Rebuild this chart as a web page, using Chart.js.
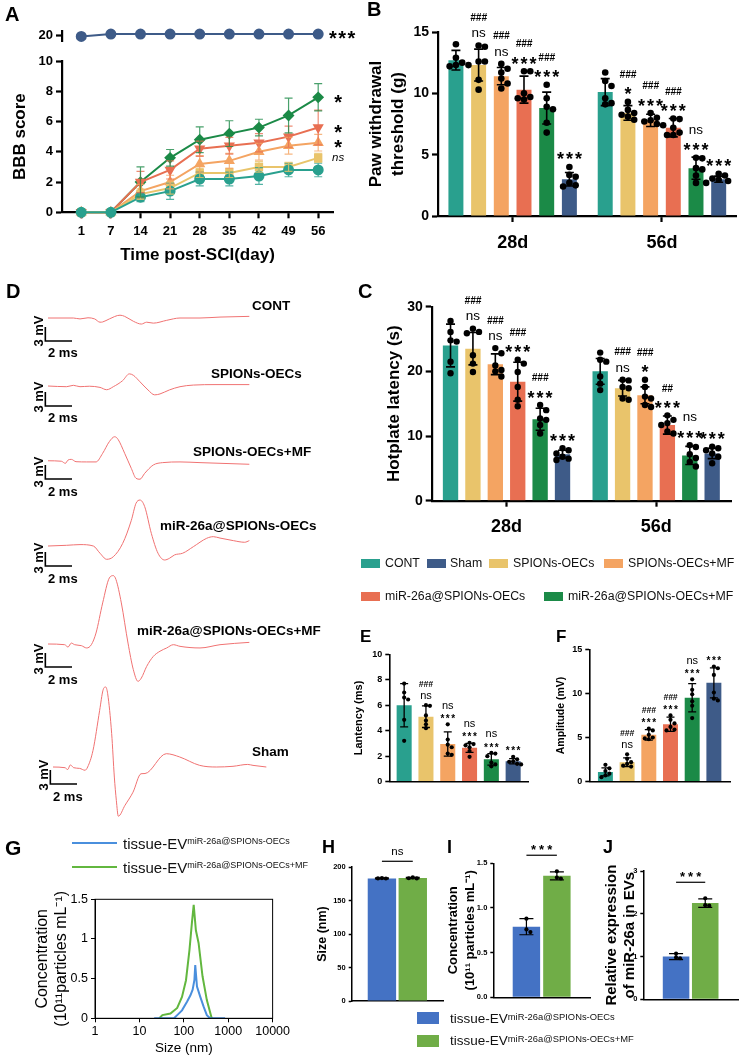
<!DOCTYPE html>
<html><head><meta charset="utf-8">
<script src="https://cdn.jsdelivr.net/npm/chart.js@4.4.0/dist/chart.umd.min.js"></script>
<style>
html,body{margin:0;padding:0;background:#fff;}
#fig{position:relative;width:743px;height:1059px;overflow:hidden;font-family:'Liberation Sans',Arial,Helvetica,sans-serif;color:#000;background:#fff;}
#fig canvas{position:absolute;}
.t{position:absolute;white-space:nowrap;line-height:1;}
.box{position:absolute;}
</style></head><body><div id="fig"></div>
<script>
// ================= DATA =================
const groupNames = ['CONT','SPIONs-OECs','SPIONs-OECs+MF','miR-26a@SPIONs-OECs','miR-26a@SPIONs-OECs+MF','Sham'];
const groupColors = ['#29a08e','#e9c46b','#f4a462','#e86f52','#1b8a47','#3e5b88'];

// A: BBB score
const bbbDays = [1,7,14,21,28,35,42,49,56];
const bbbSham = [19.8,20.2,20.2,20.2,20.2,20.2,20.2,20.2,20.2];
const bbbCont = [0,0,1.0,1.4,2.2,2.2,2.4,2.8,2.8];
const bbbSp = [0,0,1.2,1.6,2.6,2.6,3.0,3.0,3.6];
const bbbSpMf = [0,0,1.4,2.0,3.2,3.4,4.0,4.4,4.6];
const bbbMir = [0,0,2.0,2.8,4.2,4.4,4.6,5.0,5.6];
const bbbMirMf = [0,0,2.0,3.6,4.8,5.2,5.6,6.4,7.6];
const bbbContSD = [0,0,0.3,0.55,0.45,0.45,0.55,0.45,0.45];
const bbbSpSD = [0,0,0.35,0.4,0.3,0.3,0.35,0.3,0.3];
const bbbSpMfSD = [0,0,0.45,0.45,0.55,0.5,0.55,0.55,0.55];
const bbbMirSD = [0,0,0.7,0.6,0.5,0.55,0.6,0.7,1.15];
const bbbMirMfSD = [0,0,1.0,0.55,0.85,0.85,0.55,1.15,0.9];
const bbbSig = ['', 'ns', '*', '*', '*', '***']; // group order

// B: paw withdrawal threshold
const timeLabels = ['28d','56d'];
const pawMean = [[12.7,10.1],[12.3,8.4],[11.4,7.8],[10.3,7.2],[8.8,3.9],[3.0,3.0]];
const pawSD = [[0.8,1.1],[1.3,0.6],[0.7,0.5],[1.1,0.75],[1.3,0.9],[0.55,0.25]];
const pawPts = [
  [[14.0,12.9,12.5,12.3,12.2,12.3],[11.7,11.0,10.6,9.6,9.2,9.1]],
  [[13.9,13.8,12.6,12.6,11.1,10.3],[9.3,8.65,8.4,8.25,8.1,7.85]],
  [[12.4,12.0,11.7,11.2,10.8,10.4],[8.4,8.0,7.8,7.7,7.5,7.4]],
  [[11.8,11.8,10.0,9.7,9.6,9.5],[7.95,7.9,7.2,6.8,6.6,6.6]],
  [[10.7,9.6,8.9,8.7,7.6,6.8],[4.75,4.7,3.9,3.8,3.3,2.7]],
  [[4.0,3.35,3.2,2.7,2.5,2.4],[3.45,3.3,3.05,2.95,2.85,2.7]]
];
const pawSig = [[[],[]],[['ns','###'],['*','###']],[['ns','###'],['***','###']],[['***','###'],['***','###']],[['***','###'],['***','ns']],[['***'],['***']]];

// C: hotplate latency
const hotMean = [[24.0,20.0],[23.5,17.4],[21.1,16.3],[18.4,11.7],[12.6,7.0],[7.2,7.3]];
const hotSD = [[3.3,2.0],[2.5,1.2],[1.6,1.3],[3.0,1.4],[1.7,1.4],[0.6,0.8]];
const hotPts = [
  [[27.8,26.1,24.8,24.6,21.5,19.7],[22.9,21.8,21.5,19.2,18.1,17.1]],
  [[26.6,26.1,25.9,22.5,21.2,19.9],[18.7,18.6,17.6,17.4,15.8,15.6]],
  [[23.6,22.8,20.9,20.2,20.0,19.2],[18.7,17.6,16.1,15.8,14.8,14.5]],
  [[21.8,21.2,19.9,17.6,15.6,14.6],[13.2,12.5,12.0,11.7,10.7,10.4]],
  [[14.8,14.0,12.7,12.5,11.7,10.4],[8.6,8.3,7.2,6.6,6.0,5.3]],
  [[8.1,7.8,7.3,6.8,6.5,6.3],[8.35,8.1,7.8,7.3,6.8,5.8]]
];
const hotSig = [[[],[]],[['ns','###'],['ns','###']],[['ns','###'],['*','###']],[['***','###'],['***','##']],[['***','###'],['***','ns']],[['***'],['***']]];

// E: latency
const latMean = [6.0,5.1,2.95,2.65,1.75,1.6];
const latSD = [1.7,0.85,0.95,0.35,0.45,0.2];
const latPts = [[7.7,7.0,6.6,6.45,4.85,3.2],[6.0,5.95,5.2,4.8,4.5,4.2],[4.5,3.3,2.9,2.7,2.2,2.1],[3.05,2.95,2.85,2.7,2.4,1.95],[2.25,2.2,2.0,1.5,1.35,1.2],[1.95,1.75,1.6,1.55,1.4,1.35]];
const latSig = [[],['ns','###'],['***','ns'],['***','ns'],['***','ns'],['***']];

// F: amplitude
const ampMean = [1.1,2.2,5.3,6.5,9.5,11.2];
const ampSD = [0.45,0.5,0.6,0.8,1.6,1.7];
const ampPts = [[1.9,1.5,1.2,0.9,0.7,0.5],[3.1,2.6,2.2,2.0,1.8,1.7],[6.0,5.8,5.3,5.0,4.9,4.8],[7.5,7.0,6.6,6.2,5.9,5.8],[11.6,10.4,9.9,9.1,8.6,7.2],[13.05,12.85,12.1,10.1,9.4,9.2]];
const ampSig = [[],['ns','###'],['***','###'],['***','###'],['***','ns'],['***']];

// D: traces (ms, mV)
const contMs = [0,1.9,2.4,3.0,3.5,3.9,4.1,4.6,5.4,5.75,6.4,7.0,7.4,7.9,8.9,9.9,11.4,12.9,15.1];
const contMv = [0,0,-0.2,0.05,-0.2,-0.9,-0.85,-0.2,0.6,0.35,-0.7,-1.3,-0.9,-1.1,-0.5,0,0,0.2,0.35];
const spMs = [0,1.4,1.9,2.4,3.1,3.9,4.4,4.9,5.6,6.1,6.4,6.9,7.5,8.0,8.4,9.1,9.9,10.9,12.6,15.1];
const spMv = [0,-0.15,0.15,-0.15,-0.05,-0.3,-0.8,-0.15,1.15,2.6,2.3,0.9,-0.85,-1.9,-1.7,-0.85,-0.15,0.2,0.3,0.3];
const spMfMs = [0,1.0,1.3,1.5,1.75,2.1,2.9,3.6,4.1,4.6,5.0,5.25,5.75,6.25,6.6,6.9,7.25,7.9,8.6,9.9,11.4,15.1];
const spMfMv = [0.05,-0.05,-0.5,0.2,0.35,-0.15,-0.2,-0.2,1.65,4.15,5.2,4.65,1.65,-1.6,-3.7,-3.9,-2.65,-0.85,-0.35,-0.2,-0.35,-0.7];
const mirMs = [0,1.4,2.4,3.4,3.9,4.4,4.9,5.6,6.25,6.6,6.9,7.25,7.75,8.25,8.75,9.1,9.5,10.1,10.9,11.9,12.4,12.9,13.9,14.75,15.1];
const mirMv = [0,0.15,0.3,0,-1.55,-2.85,-2.3,0.55,5.5,9.15,9.85,8.45,2.7,-1.55,-3.0,-2.65,-1.9,-1.55,-0.15,1.65,2.0,1.7,1.15,0.8,1.15];
const mirMfMs = [0,1.25,1.5,1.75,2.0,2.5,2.9,3.25,3.6,4.1,4.6,4.9,5.1,5.5,6.0,6.4,6.75,7.0,7.4,7.9,8.4,8.9,9.4,9.9,11.4,12.9,15.1];
const mirMfMv = [0,-0.15,-0.65,0.2,-0.15,-0.35,-0.85,-0.15,2.35,8.8,14.15,14.65,13.8,8.8,0.2,-5.5,-8.0,-7.3,-4.8,-2.65,-1.55,-0.85,-0.15,-0.5,-0.85,-0.15,0.35];
const shamMs = [0,0.9,1.1,1.3,1.55,2.0,2.4,2.6,3.0,3.5,3.75,3.95,4.1,4.4,4.6,4.75,4.9,5.4,6.0,6.6,6.9,8.5,9.5,11.0,12.25,13.5,14.6,15.0,16.0];
const shamMv = [0,-0.15,-0.55,0.45,-0.15,-0.3,-0.7,0,3.55,12.15,16.45,17.15,15.7,7.15,-2.15,-7.15,-10.55,-8.2,-5.4,-1.45,-1.4,2.85,2.15,0.35,0,0.15,0.55,0.35,0];
const scaleBarMv = 3, scaleBarMs = 2;

// G: NTA
const ntaBlueNm = [21.5,60,71,91,118,141,158,173,181,198,235,278,330,390,850];
const ntaBlueVal = [0,0,0.04,0.1,0.21,0.29,0.36,0.48,0.67,0.4,0.27,0.15,0.04,0,0];
const ntaGreenNm = [28,33,50,71,91,112,134,152,167,187,215,264,330,425,450];
const ntaGreenVal = [0,0.04,0.06,0.13,0.27,0.48,0.86,1.2,1.43,1.11,0.95,0.53,0.23,0,0];
const ntaXTicks = [1,10,100,1000,10000];
const ntaYTicks = [0,0.5,1,1.5];

// H, I, J
const evNames = ['miR-26a@SPIONs-OECs','miR-26a@SPIONs-OECs+MF'];
const evColors = ['#4472c4','#70ad47'];
const sizeMean = [183,183.5], sizeSD = [0.8,1.0], sizePts = [[183.5,182.8,183],[184.5,183,183.2]];
const concMean = [0.79,1.36], concSD = [0.09,0.045], concPts = [[0.88,0.76,0.73],[1.41,1.34,1.33]];
const relMean = [1.0,2.25], relSD = [0.07,0.1], relPts = [[1.07,0.98,0.96],[2.36,2.2,2.19]];
const sizeSig = 'ns', concSig = '***', relSig = '***';

// ================= SETUP =================
const FF = "'Liberation Sans', Arial, Helvetica, sans-serif";
Chart.defaults.font.family = FF;
Chart.defaults.color = '#000';
Chart.defaults.animation = false;
Chart.defaults.responsive = false;
Chart.defaults.devicePixelRatio = 1;
Chart.defaults.events = [];
Chart.defaults.plugins.legend.display = false;
Chart.defaults.plugins.tooltip.enabled = false;

const fig = document.getElementById('fig');
function mkCanvas(x, y, w, h) {
  const c = document.createElement('canvas');
  c.width = w; c.height = h;
  c.style.left = x + 'px'; c.style.top = y + 'px';
  c.style.width = w + 'px'; c.style.height = h + 'px';
  fig.appendChild(c);
  return c;
}
function T(x, y, html, size, o = {}) {
  const d = document.createElement('div');
  d.className = 't';
  d.innerHTML = html;
  d.style.fontSize = size + 'px';
  d.style.fontWeight = o.w || 'bold';
  if (o.color) d.style.color = o.color;
  d.style.left = x + 'px';
  d.style.top = (y - size * 0.5) + 'px';
  if (o.rot) { d.style.top = y + 'px'; d.style.transform = 'translate(-50%,-50%) rotate(-90deg)'; }
  else if (o.center) d.style.transform = 'translateX(-50%)';
  fig.appendChild(d);
  return d;
}
function B(x, y, w, h, color) {
  const d = document.createElement('div');
  d.className = 'box';
  Object.assign(d.style, {left: x + 'px', top: y + 'px', width: w + 'px', height: h + 'px', background: color});
  fig.appendChild(d);
  return d;
}

function sigH(t, sz) { if (t.indexOf('#') >= 0) return 0.72 * sz.hash; if (t === 'ns') return 0.53 * sz.ns; return 0.36 * sz.star; }
function drawSig(ctx, t, x, cy, sz) {
  let font, size, c, ls = 0;
  if (t.indexOf('#') >= 0) { size = sz.hash; font = 'italic bold ' + size + 'px ' + FF; c = 0.36; }
  else if (t === 'ns') { size = sz.ns; font = (sz.nsItalic ? 'italic ' : '') + size + 'px ' + FF; c = 0.265; }
  else { size = sz.star; font = 'bold ' + size + 'px ' + FF; c = 0.56; ls = sz.ls || 0; }
  ctx.save();
  ctx.font = font; ctx.fillStyle = '#000'; ctx.textAlign = 'center'; ctx.textBaseline = 'alphabetic';
  try { ctx.letterSpacing = ls + 'px'; } catch (e) {}
  ctx.fillText(t, x + ls / 2, cy + c * size);
  ctx.restore();
}

let pid = 0;
function mkExtras(cfg) {
  return {
    id: 'ex' + (pid++),
    afterDatasetsDraw(chart) {
      const ctx = chart.ctx;
      const tops = [];
      chart.data.datasets.forEach((ds, di) => {
        const meta = chart.getDatasetMeta(di);
        const ys = chart.scales[meta.yAxisID];
        meta.data.forEach((el, i) => {
          const raw = ds.data[i];
          const v = (raw !== null && typeof raw === 'object') ? raw.y : raw;
          const x = el.x;
          let top = ys.getPixelForValue(v);
          const err = cfg.err && cfg.err[di] ? cfg.err[di][i] : 0;
          ctx.save();
          if (err) {
            const y1 = ys.getPixelForValue(v + err), y2 = ys.getPixelForValue(v - err);
            ctx.strokeStyle = cfg.errColor ? cfg.errColor[di] : '#000';
            ctx.lineWidth = cfg.errW;
            const h = cfg.cap / 2;
            ctx.beginPath();
            ctx.moveTo(x, y2); ctx.lineTo(x, y1);
            ctx.moveTo(x - h, y1); ctx.lineTo(x + h, y1);
            ctx.moveTo(x - h, y2); ctx.lineTo(x + h, y2);
            ctx.stroke();
            top = Math.min(top, y1);
          }
          const pts = cfg.dots && cfg.dots[di] ? cfg.dots[di][i] : null;
          if (pts) {
            const r = cfg.r, d = r * 1.9, placed = [];
            ctx.fillStyle = '#000';
            pts.forEach(p => {
              const py = ys.getPixelForValue(p);
              let off = 0;
              const cands = [0, d, -d, 0.5 * d, -0.5 * d, 1.5 * d, -1.5 * d, 2 * d, -2 * d];
              for (const c of cands) {
                if (placed.every(q => Math.hypot(q.x - (x + c), q.y - py) >= d * 0.95)) { off = c; break; }
              }
              placed.push({x: x + off, y: py});
              ctx.beginPath(); ctx.arc(x + off, py, r, 0, Math.PI * 2); ctx.fill();
              top = Math.min(top, py - r);
            });
          }
          ctx.restore();
          tops.push(top);
          const lab = cfg.sig && cfg.sig[di] ? cfg.sig[di][i] : null;
          if (lab && lab.length) {
            let cur = top - cfg.gap;
            lab.forEach(t => {
              const hh = sigH(t, cfg.sz);
              const cy = cur - hh / 2;
              drawSig(ctx, t, x, cy, cfg.sz);
              cur = cy - hh / 2 - cfg.sp;
            });
          }
        });
        if (cfg.end && cfg.end[di]) {
          const el = meta.data[meta.data.length - 1];
          drawSig(ctx, cfg.end[di], el.x + cfg.endDx, el.y, cfg.endSz);
        }
      });
      if (cfg.bracket) {
        const a = chart.getDatasetMeta(0).data[0], b = chart.getDatasetMeta(1).data[0];
        const by = Math.min.apply(null, tops) - cfg.bracket.gap;
        ctx.save(); ctx.strokeStyle = '#000'; ctx.lineWidth = 1.2;
        ctx.beginPath(); ctx.moveTo(a.x, by); ctx.lineTo(b.x, by); ctx.stroke(); ctx.restore();
        drawSig(ctx, cfg.bracket.text, (a.x + b.x) / 2, by - cfg.bracket.tg, cfg.sz);
      }
      if (cfg.frame) {
        const ca = chart.chartArea;
        ctx.save(); ctx.strokeStyle = '#000'; ctx.lineWidth = 1;
        ctx.strokeRect(ca.left, ca.top, ca.right - ca.left, ca.bottom - ca.top); ctx.restore();
      }
    }
  };
}

function yAxis(o) {
  return {
    min: o.min, max: o.max,
    afterBuildTicks: o.ticksAt ? (s => { s.ticks = o.ticksAt.map(v => ({value: v})); }) : undefined,
    ticks: {stepSize: o.step, font: {size: o.fs, weight: o.fw || 'bold'}, padding: o.tp == null ? 3 : o.tp, color: '#000', callback: o.cb},
    grid: {display: true, drawOnChartArea: false, drawTicks: true, tickLength: o.tl, tickWidth: o.bw, color: '#000'},
    border: {display: true, width: o.bw, color: '#000'},
    title: o.title ? {display: true, text: o.title, color: '#000', font: {size: o.tfs, weight: o.tfw || 'bold', lineHeight: o.tlh || 1.2}, padding: {top: o.tpad, bottom: 0}} : {display: false},
    afterFit: s => { s.width = o.w; }
  };
}
function plainX(bw) {
  return {ticks: {display: false}, grid: {display: false}, border: {display: true, width: bw, color: '#000'}, afterFit: s => { s.height = 0; }};
}

// ================= PANEL A =================
const bbbSeries = [bbbCont, bbbSp, bbbSpMf, bbbMir, bbbMirMf];
const bbbSDs = [bbbContSD, bbbSpSD, bbbSpMfSD, bbbMirSD, bbbMirMfSD];
const bbbStyles = [['circle',0],['rect',0],['triangle',0],['triangle',180],['rectRot',0]];
function aX(display) {
  return {
    type: 'linear', min: -0.65, max: 8.5, display: display,
    afterBuildTicks: s => { s.ticks = bbbDays.map((d, i) => ({value: i})); },
    ticks: {callback: v => bbbDays[v], font: {size: 13, weight: 'bold'}, padding: 5, autoSkip: false, maxRotation: 0},
    grid: {display: true, drawOnChartArea: false, tickLength: 6, tickWidth: 2.2, color: '#000'},
    border: {display: true, width: 2.2, color: '#000'},
    title: {display: true, text: 'Time post-SCI(day)', font: {size: 17, weight: 'bold'}, padding: {top: 4, bottom: 2}},
    afterFit: s => { s.height = display ? 55 : 0; }
  };
}
new Chart(mkCanvas(0, 20, 370, 32), {
  type: 'line',
  data: {datasets: [{data: bbbSham.map((v, i) => ({x: i, y: v})), borderColor: groupColors[5], backgroundColor: groupColors[5], borderWidth: 2, pointRadius: 4.5, pointStyle: 'circle', clip: false}]},
  options: {
    layout: {padding: {left: 0, top: 9.3, right: 37, bottom: 7}},
    scales: {x: aX(false), y: yAxis({min: 19, max: 20.75, ticksAt: [20], fs: 13, tl: 6, bw: 2.2, w: 62})}
  },
  plugins: [mkExtras({end: ['***'], endDx: 24, endSz: {star: 20, ls: 1.5, ns: 11, hash: 10}})]
});
new Chart(mkCanvas(0, 50, 370, 240), {
  type: 'line',
  data: {datasets: bbbSeries.map((s, g) => ({
    data: s.map((v, i) => ({x: i, y: v})), borderColor: groupColors[g], backgroundColor: groupColors[g],
    borderWidth: 2, pointRadius: 4.5, pointStyle: bbbStyles[g][0], pointRotation: bbbStyles[g][1], clip: false
  }))},
  options: {
    layout: {padding: {left: 0, top: 11, right: 37, bottom: 22.7}},
    scales: {x: aX(true), y: yAxis({min: 0, max: 10, step: 2, fs: 13, tl: 6, bw: 2.2, w: 62, title: 'BBB score', tfs: 17, tpad: 9.8})}
  },
  plugins: [mkExtras({err: bbbSDs, errColor: groupColors.map(c => c + 'cc'), errW: 1.2, cap: 8,
    end: bbbSig.slice(0, 5), endDx: 20, endSz: {star: 20, ls: 1.5, ns: 11.5, hash: 10, nsItalic: true}})]
});

// ================= PANEL B & C =================
function groupBar(canvas, labels, means, sds, pts, sigs, o) {
  return new Chart(canvas, {
    type: 'bar',
    data: {labels: labels, datasets: means.map((m, g) => ({label: groupNames[g], data: m, backgroundColor: groupColors[g], borderWidth: 0, categoryPercentage: o.cat, barPercentage: o.bar}))},
    options: {layout: {padding: o.pad}, scales: {x: o.x, y: o.y}},
    plugins: [mkExtras({err: sds, dots: pts, sig: sigs, errW: o.errW, cap: o.cap, r: o.r, gap: o.gap, sp: o.sp, sz: o.sz})]
  });
}
function catX(h) {
  return {
    ticks: {font: {size: 18, weight: 'bold'}, padding: 10},
    grid: {display: true, drawOnChartArea: false, offset: false, tickLength: 6, tickWidth: 2.2, color: '#000'},
    border: {display: true, width: 2.2, color: '#000'},
    afterFit: s => { s.height = h; }
  };
}
const bigSz = {star: 18, ls: 2, ns: 13.5, hash: 10};
groupBar(mkCanvas(360, 0, 383, 280), timeLabels, pawMean, pawSD, pawPts, pawSig, {
  cat: 0.912, bar: 0.66, pad: {left: 0, top: 32, right: 6.4, bottom: 24},
  x: catX(40),
  y: yAxis({min: 0, max: 15, step: 5, fs: 14, tl: 6, bw: 2.2, w: 78, title: ['Paw withdrawal', 'threshold (g)'], tfs: 17, tlh: 1.3, tpad: 5}),
  errW: 1.6, cap: 9, r: 3.3, gap: 5, sp: 9, sz: bigSz
});
groupBar(mkCanvas(370, 290, 373, 252), timeLabels, hotMean, hotSD, hotPts, hotSig, {
  cat: 0.898, bar: 0.685, pad: {left: 0, top: 16.7, right: 12, bottom: 1.3},
  x: catX(40),
  y: yAxis({min: 0, max: 30, step: 10, fs: 14, tl: 6, bw: 2.2, w: 61.7, title: 'Hotplate latency (s)', tfs: 17, tpad: 13.8}),
  errW: 1.6, cap: 9, r: 3.2, gap: 5, sp: 9, sz: bigSz
});

// ================= PANEL E & F =================
const smallSz = {star: 10, ls: 1.5, ns: 11, hash: 8.5};
groupBar(mkCanvas(340, 625, 190, 165), [''], latMean.map(v => [v]), latSD.map(v => [v]), latPts.map(p => [p]), latSig.map(s => [s]), {
  cat: 0.943, bar: 0.69, pad: {left: 0, top: 29.3, right: 2, bottom: 3.3},
  x: plainX(1.6),
  y: yAxis({min: 0, max: 10, step: 2, fs: 9, tl: 4, bw: 1.6, w: 49.3, title: 'Lantency (ms)', tfs: 11, tpad: 12.7}),
  errW: 1.3, cap: 8, r: 2.1, gap: 4, sp: 6, sz: smallSz
});
groupBar(mkCanvas(540, 625, 200, 165), [''], ampMean.map(v => [v]), ampSD.map(v => [v]), ampPts.map(p => [p]), ampSig.map(s => [s]), {
  cat: 0.925, bar: 0.69, pad: {left: 0, top: 24.3, right: 10, bottom: 4.3},
  x: plainX(1.6),
  y: yAxis({min: 0, max: 15, step: 5, fs: 9, tl: 4, bw: 1.6, w: 49.3, title: 'Amplitude (mV)', tfs: 10.5, tpad: 14.4}),
  errW: 1.3, cap: 8, r: 2.1, gap: 4, sp: 6, sz: smallSz
});

// ================= PANEL H, I, J =================
function evBar(canvas, means, sds, pts, sigText, o) {
  return new Chart(canvas, {
    type: 'bar',
    data: {labels: [''], datasets: means.map((m, g) => ({label: evNames[g], data: [m], backgroundColor: evColors[g], borderWidth: 0, categoryPercentage: o.cat, barPercentage: o.bar}))},
    options: {layout: {padding: o.pad}, scales: {x: plainX(1.5), y: o.y}},
    plugins: [mkExtras({err: sds.map(v => [v]), dots: pts.map(p => [p]), errW: 1.2, cap: 14, r: 2.1,
      bracket: {text: sigText, gap: 14, tg: 9}, sz: {star: 13, ls: 3, ns: 11.5, hash: 9}})]
  });
}
evBar(mkCanvas(300, 840, 150, 170), sizeMean, sizeSD, sizePts, sizeSig, {
  cat: 0.676, bar: 0.92, pad: {left: 0, top: 27, right: 7, bottom: 9},
  y: yAxis({min: 0, max: 200, step: 50, fs: 7.5, tl: 3, bw: 1.5, w: 51.7, title: 'Size (nm)', tfs: 12.5, tpad: 15})
});
evBar(mkCanvas(440, 840, 155, 170), concMean, concSD, concPts, concSig, {
  cat: 0.63, bar: 0.9, pad: {left: 0, top: 23.3, right: 5, bottom: 12.7},
  y: yAxis({min: 0, max: 1.5, step: 0.5, fs: 7.5, tl: 3, bw: 1.5, w: 53.3, cb: v => v.toFixed(1), title: ['Concentration', '(10¹¹ particles mL⁻¹)'], tfs: 13, tlh: 1.34, tpad: 4.6})
});
evBar(mkCanvas(595, 840, 148, 170), relMean, relSD, relPts, relSig, {
  cat: 0.616, bar: 0.91, pad: {left: 0, top: 31, right: 5, bottom: 10.7},
  y: yAxis({min: 0, max: 3, step: 1, fs: 7.5, tl: 3, bw: 1.5, w: 48.3, title: ['Relative expression', 'of miR-26a in EVs'], tfs: 15, tlh: 1.22, tpad: 7.5})
});

// ================= PANEL G =================
new Chart(mkCanvas(0, 880, 292, 179), {
  type: 'line',
  data: {datasets: [
    {data: ntaBlueNm.map((x, i) => ({x: x, y: ntaBlueVal[i]})), borderColor: '#4a8fdd', borderWidth: 2, pointRadius: 0, tension: 0},
    {data: ntaGreenNm.map((x, i) => ({x: x, y: ntaGreenVal[i]})), borderColor: '#62b73f', borderWidth: 2, pointRadius: 0, tension: 0}
  ]},
  options: {
    layout: {padding: {left: 0, top: 19.3, right: 18, bottom: 2.7}},
    scales: {
      x: {type: 'logarithmic', min: 1, max: 10000,
        afterBuildTicks: s => { s.ticks = ntaXTicks.map(v => ({value: v})); },
        ticks: {callback: v => String(v), font: {size: 12.5}, padding: 2, maxRotation: 0, autoSkip: false},
        grid: {display: true, drawOnChartArea: false, tickLength: 4, tickWidth: 1, color: '#000'},
        border: {display: true, width: 1, color: '#000'},
        title: {display: true, text: 'Size (nm)', font: {size: 13.5}, padding: {top: 0, bottom: 0}},
        afterFit: s => { s.height = 38; }},
      y: yAxis({min: 0, max: 1.5, ticksAt: ntaYTicks, fs: 12.5, fw: 'normal', tl: 4, bw: 1, w: 95, cb: v => String(v),
        title: ['Concentration', '(10¹¹particles mL⁻¹)'], tfs: 16, tfw: 'normal', tlh: 1.17, tpad: 33.6})
    }
  },
  plugins: [mkExtras({frame: true})]
});

// ================= PANEL D (traces) =================
function traceChart(left, base, ms, mv, sbTop) {
  return new Chart(mkCanvas(left, base - 84, 230, 140), {
    type: 'line',
    data: {datasets: [
      {data: ms.map((x, i) => ({x: x, y: mv[i]})), borderColor: '#f07272', borderWidth: 1, pointRadius: 0, cubicInterpolationMode: 'monotone', clip: false},
      {data: [{x: -0.2, y: sbTop}, {x: -0.2, y: sbTop - scaleBarMv}, {x: -0.2 + scaleBarMs, y: sbTop - scaleBarMv}], borderColor: '#000', borderWidth: 1.6, borderJoinStyle: 'miter', pointRadius: 0, tension: 0, clip: false}
    ]},
    options: {layout: {padding: 0}, scales: {x: {type: 'linear', display: false, min: -0.6, max: 16.65}, y: {display: false, min: -12, max: 18}}}
  });
}
const traceDefs = [
  {ms: contMs, mv: contMv, base: 318, left: 40, sb: -1.93, name: groupNames[0], nx: 252, ny: 306, mvy: 331, msy: 352},
  {ms: spMs, mv: spMv, base: 386, left: 40, sb: -1.29, name: groupNames[1], nx: 211, ny: 374, mvy: 397, msy: 417.7},
  {ms: spMfMs, mv: spMfMv, base: 461, left: 40, sb: -0.86, name: groupNames[2], nx: 193, ny: 452, mvy: 471.7, msy: 491.7},
  {ms: mirMs, mv: mirMv, base: 546, left: 40, sb: -1.29, name: groupNames[3], nx: 160, ny: 526, mvy: 558, msy: 578.3},
  {ms: mirMfMs, mv: mirMfMv, base: 644, left: 40, sb: -1.93, name: groupNames[4], nx: 137, ny: 631, mvy: 659, msy: 679.3},
  {ms: shamMs, mv: shamMv, base: 767, left: 45, sb: -0.64, name: groupNames[5], nx: 252, ny: 752, mvy: 775, msy: 796}
];
traceDefs.forEach(d => {
  traceChart(d.left, d.base, d.ms, d.mv, d.sb);
  T(d.nx, d.ny, d.name, 13.5);
  T(d.left - 2, d.mvy, scaleBarMv + ' mV', 13, {rot: true});
  T(d.left + 8, d.msy, scaleBarMs + ' ms', 13);
});

// ================= TEXT: panel letters, legends =================
T(5, 14, 'A', 20); T(367, 9, 'B', 20); T(358, 291, 'C', 20); T(6, 291, 'D', 20);
T(360, 636, 'E', 17); T(556, 636, 'F', 17); T(5, 847, 'G', 21);
T(322, 846.5, 'H', 18); T(447, 846.5, 'I', 18); T(603, 846.5, 'J', 18);

// group legend
const legendItems = [
  {g: 0, bx: 361, tx: 385, y: 563}, {g: 5, bx: 427, tx: 450, y: 563}, {g: 1, bx: 489.3, tx: 513, y: 563}, {g: 2, bx: 604.3, tx: 628, y: 563},
  {g: 3, bx: 361, tx: 385, y: 596}, {g: 4, bx: 544, tx: 568, y: 596}
];
legendItems.forEach(it => {
  B(it.bx, it.y - 4.5, 19, 9, groupColors[it.g]);
  T(it.tx, it.y, groupNames[it.g], 12.3, {w: 'normal', color: '#111'});
});

// G legend
[[843, '#4a8fdd', 0], [867, '#62b73f', 1]].forEach(r => {
  B(72, r[0] - 1.2, 45, 2.4, r[1]);
  T(123, r[0], 'tissue-EV<span style="font-size:9px;position:relative;top:-4.3px">' + evNames[r[2]] + '</span>', 15, {w: 'normal', color: '#111'});
});
// H-J legend
[[1018.3, 0], [1041, 1]].forEach(r => {
  B(416.7, r[0] - 6, 22.3, 12, evColors[r[1]]);
  T(450, r[0], 'tissue-EV<span style="font-size:9.4px;position:relative;top:-3px">' + evNames[r[1]] + '</span>', 13.5, {w: 'normal', color: '#111'});
});
</script></body></html>
